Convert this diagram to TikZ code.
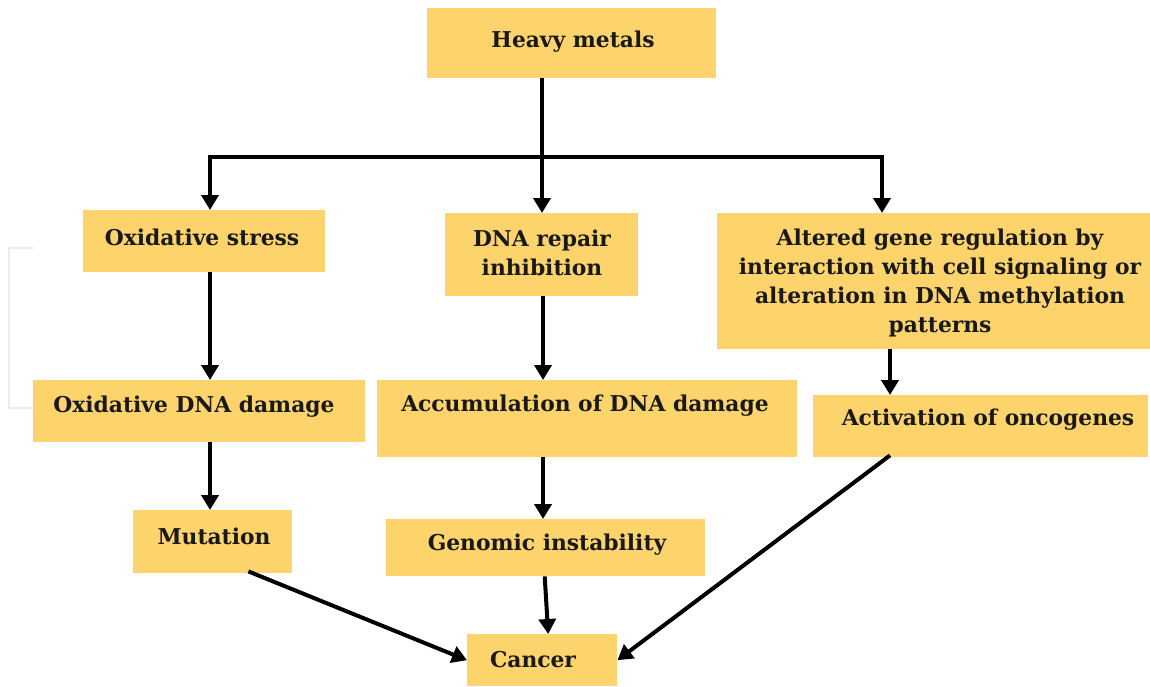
\documentclass[tikz,border=0pt]{standalone}
\usepackage{fontspec}
\setmainfont{DejaVu Serif}
\usetikzlibrary{arrows.meta}
\definecolor{boxfill}{RGB}{253,212,107}
\begin{document}
\begin{tikzpicture}[x=1pt,y=-1pt,
  box/.style={fill=boxfill, draw=none, inner sep=0pt, anchor=north west},
  txt/.style={font=\fontsize{21.8}{29}\selectfont\bfseries, align=center, inner sep=0pt, text=black!90},
  arr/.style={line width=4pt, -{Triangle[width=17pt,length=15pt]}},
  ln/.style={line width=4pt}
]
\useasboundingbox (0,0) rectangle (1150,686);
\fill[white] (0,0) rectangle (1150,686);
% faint bracket artifact
\draw[black!8, line width=1.5pt] (33,248) -- (9,248) -- (9,408) -- (33,408);
% boxes
\node[box, minimum width=289pt, minimum height=70pt] (heavy) at (427,8) {};
\node[box, minimum width=242pt, minimum height=62pt] (oxs) at (83,210) {};
\node[box, minimum width=193pt, minimum height=83pt] (dnar) at (445,213) {};
\node[box, minimum width=433pt, minimum height=136pt] (alt) at (717,213) {};
\node[box, minimum width=332pt, minimum height=62pt] (oxd) at (33,380) {};
\node[box, minimum width=420pt, minimum height=77pt] (acc) at (377,380) {};
\node[box, minimum width=335pt, minimum height=62pt] (act) at (813,395) {};
\node[box, minimum width=159pt, minimum height=63pt] (mut) at (133,510) {};
\node[box, minimum width=319pt, minimum height=57pt] (gen) at (386,519) {};
\node[box, minimum width=150pt, minimum height=52pt] (can) at (467,634) {};
% texts
\node[txt] (heavyT) at (573,42) {Heavy metals};
\node[txt] (oxsT) at (202,237) {Oxidative stress};
\node[txt] (dnarT) at (542,253) {DNA repair\\inhibition};
\node[txt] (altT) at (940,283) {Altered gene regulation by\\interaction with cell signaling or\\alteration in DNA methylation\\patterns};
\node[txt] (oxdT) at (194,407) {Oxidative DNA damage};
\node[txt] (accT) at (585,406) {Accumulation of DNA damage};
\node[txt] (actT) at (988,420) {Activation of oncogenes};
\node[txt] (mutT) at (214,536) {Mutation};
\node[txt] (genT) at (547,545) {Genomic instability};
\node[txt] (canT) at (533,660) {Cancer};
% junction coordinates
\coordinate (jM) at (542,157);
\coordinate (jL) at (210,157);
\coordinate (jR) at (882,157);
\coordinate (c3) at (890,0);
\coordinate (cM) at (543,0);
% connectors
\draw[ln, line cap=rect] (jL) -- (jR);
\draw[arr] (heavy.south -| jM) -- (dnar.north -| jM);
\draw[arr] (jL) -- (jL |- oxs.north);
\draw[arr] (jR) -- (jR |- alt.north);
\draw[arr] (oxs.south -| jL) -- (oxd.north -| jL);
\draw[arr] (dnar.south -| cM) -- (acc.north -| cM);
\draw[arr] (alt.south -| c3) -- (act.north -| c3);
\draw[arr] (oxd.south -| jL) -- (mut.north -| jL);
\draw[arr] (acc.south -| cM) -- (gen.north -| cM);
\draw[arr] ([xshift=-1pt]gen.south) -- ([xshift=6pt]can.north);
\draw[arr] ([xshift=-44pt,yshift=2pt]mut.south east) -- (can.west);
\draw[arr] ([yshift=2pt]act.south -| c3) -- (can.east);
\end{tikzpicture}
\end{document}
